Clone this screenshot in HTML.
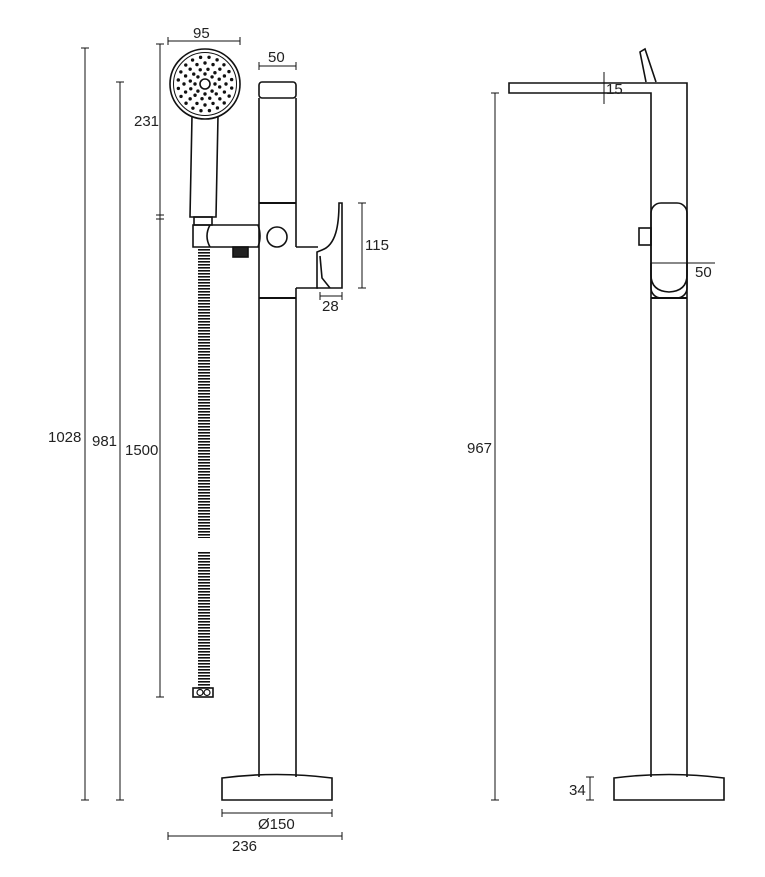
<!DOCTYPE html>
<html><head><meta charset="utf-8"><style>
html,body{margin:0;padding:0;background:#fff;}
svg{display:block;font-family:"Liberation Sans",sans-serif;}
text{font-size:15px;fill:#222;}
</style></head><body>
<svg id="s" width="765" height="877" viewBox="0 0 765 877" xmlns="http://www.w3.org/2000/svg">
<defs>
<pattern id="hz" width="12" height="3" patternUnits="userSpaceOnUse"><rect width="12" height="1.6" fill="#111"/></pattern>
</defs>
<g fill="none" stroke="#111" stroke-width="1.6">
<rect x="259" y="82" width="37" height="16" rx="3"/>
<line x1="259" y1="98" x2="259" y2="777"/>
<line x1="296" y1="98" x2="296" y2="247"/>
<line x1="296" y1="288" x2="296" y2="777"/>
<line x1="259" y1="203" x2="296" y2="203" stroke-width="2"/>
<line x1="259" y1="298" x2="296" y2="298" stroke-width="2"/>
<line x1="296" y1="247" x2="318" y2="247"/>
<line x1="296" y1="288" x2="318" y2="288"/>
<path d="M317 252 L317 288 L342 288 L342 203 L339 203 C339 225 336 245 322 250 Z"/>
<path d="M320 256 L322 278 L330 288"/>
<path d="M222 778 Q277 771 332 778 L332 800 L222 800 Z"/>
<circle cx="205" cy="84" r="35"/>
<circle cx="205" cy="84" r="31.5" stroke-width="1"/>
<circle cx="205" cy="84" r="5"/>
<path d="M192 116 L190 217 L216 217 L218 116"/>
<rect x="194" y="217" width="18" height="8"/>
<path d="M193 225 L258 225 Q262 236 258 247 L193 247 Z"/>
<path d="M210 225 Q204 236 210 247"/>
<rect x="233" y="247" width="15" height="10" fill="#222"/>
<circle cx="277" cy="237" r="10"/>
<rect x="193" y="688" width="20" height="9"/>
<circle cx="200" cy="692.5" r="3" stroke-width="1.2"/>
<circle cx="207" cy="692.5" r="3" stroke-width="1.2"/>
<path d="M651 777 L651 93 L509 93 L509 83 L687 83 L687 777"/>
<rect x="651" y="203" width="36" height="95" rx="10"/>
<path d="M651 263 L651 275 Q651 291 669 292 Q687 291 687 275 L687 263"/>
<line x1="651" y1="298" x2="687" y2="298" stroke-width="2"/>
<rect x="639" y="228" width="12" height="17"/>
<path d="M646 82 L640 52 L645 49 L656 82"/>
<path d="M614 778 Q669 771 724 778 L724 800 L614 800 Z"/>
</g>
<rect x="198" y="248" width="12" height="290" fill="url(#hz)"/>
<rect x="198" y="552" width="12" height="136" fill="url(#hz)"/>
<g id="dots" fill="#111"></g>
<g stroke="#111" stroke-width="1" fill="none">
<line x1="85" y1="48" x2="85" y2="800"/><line x1="81" y1="48" x2="89" y2="48"/><line x1="81" y1="800" x2="89" y2="800"/>
<line x1="120" y1="82" x2="120" y2="800"/><line x1="116" y1="82" x2="124" y2="82"/><line x1="116" y1="800" x2="124" y2="800"/>
<line x1="160" y1="44" x2="160" y2="697"/><line x1="156" y1="44" x2="164" y2="44"/><line x1="156" y1="215" x2="164" y2="215"/><line x1="156" y1="219" x2="164" y2="219"/><line x1="156" y1="697" x2="164" y2="697"/>
<line x1="168" y1="41" x2="240" y2="41"/><line x1="168" y1="37" x2="168" y2="45"/><line x1="240" y1="37" x2="240" y2="45"/>
<line x1="259" y1="66" x2="296" y2="66"/><line x1="259" y1="62" x2="259" y2="70"/><line x1="296" y1="62" x2="296" y2="70"/>
<line x1="362" y1="203" x2="362" y2="288"/><line x1="358" y1="203" x2="366" y2="203"/><line x1="358" y1="288" x2="366" y2="288"/>
<line x1="320" y1="296" x2="342" y2="296"/><line x1="320" y1="292" x2="320" y2="300"/><line x1="342" y1="292" x2="342" y2="300"/>
<line x1="222" y1="813" x2="332" y2="813"/><line x1="222" y1="809" x2="222" y2="817"/><line x1="332" y1="809" x2="332" y2="817"/>
<line x1="168" y1="836" x2="342" y2="836"/><line x1="168" y1="832" x2="168" y2="840"/><line x1="342" y1="832" x2="342" y2="840"/>
<line x1="495" y1="93" x2="495" y2="800"/><line x1="491" y1="93" x2="499" y2="93"/><line x1="491" y1="800" x2="499" y2="800"/>
<line x1="604" y1="72" x2="604" y2="104"/>
<line x1="590" y1="777" x2="590" y2="800"/><line x1="586" y1="777" x2="594" y2="777"/><line x1="586" y1="800" x2="594" y2="800"/>
<line x1="651" y1="263" x2="715" y2="263"/>
</g>
<text x="193" y="38">95</text>
<text x="268" y="62">50</text>
<text x="134" y="126">231</text>
<text x="365" y="250">115</text>
<text x="322" y="311">28</text>
<text x="48" y="442">1028</text>
<text x="92" y="446">981</text>
<text x="125" y="455">1500</text>
<text x="258" y="829">Ø150</text>
<text x="232" y="851">236</text>
<text x="606" y="94">15</text>
<text x="695" y="277">50</text>
<text x="467" y="453">967</text>
<text x="569" y="795">34</text>
</svg>
<script>
var g=document.getElementById('dots'),cx=205,cy=84,rings=[[10,8,0],[15,12,0.2],[21,16,0],[27,20,0.15]];
rings.forEach(function(r){for(var i=0;i<r[1];i++){var a=2*Math.PI*i/r[1]+r[2];var c=document.createElementNS('http://www.w3.org/2000/svg','circle');c.setAttribute('cx',cx+r[0]*Math.cos(a));c.setAttribute('cy',cy+r[0]*Math.sin(a));c.setAttribute('r',1.7);g.appendChild(c);}});
</script>
</body></html>
